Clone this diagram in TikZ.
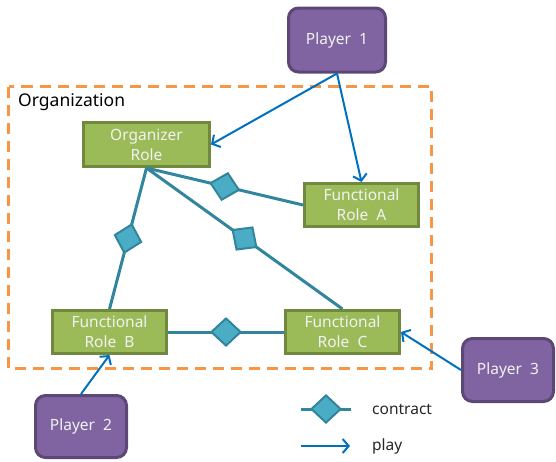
\documentclass[tikz,border=0pt]{standalone}
\usepackage{fontspec}
\setmainfont{Noto Sans}
\usetikzlibrary{shapes.geometric,arrows.meta}
\definecolor{rolefill}{HTML}{9BBB59}
\definecolor{roleedge}{HTML}{71893F}
\definecolor{playerfill}{HTML}{8064A2}
\definecolor{playeredge}{HTML}{5C4776}
\definecolor{linkcol}{HTML}{31859C}
\definecolor{diamfill}{HTML}{4BACC6}
\definecolor{playcol}{HTML}{0070C0}
\definecolor{orgcol}{HTML}{F79646}
\definecolor{boxtext}{HTML}{F2F2F2}
\begin{document}
\begin{tikzpicture}[x=1pt,y=-1pt,
  role/.style={draw=roleedge, fill=rolefill, line width=3pt, text=boxtext,
    font=\fontsize{15.5}{20}\selectfont, align=center, inner sep=0pt,
    minimum width=114pt, minimum height=43pt},
  player/.style={draw=playeredge, fill=playerfill, line width=3pt, text=boxtext,
    font=\fontsize{15.5}{20}\selectfont, rounded corners=10pt, inner sep=0pt,
    minimum width=91pt, minimum height=62pt},
  link/.style={draw=linkcol, line width=3pt},
  contract/.style={diamond, draw=linkcol, fill=diamfill, line width=2pt,
    inner sep=0pt, minimum width=30pt, minimum height=28pt, sloped},
  play/.style={draw=playcol, line width=2pt,
    -{Straight Barb[length=6pt,width=14pt,line width=2pt]}},
  label/.style={font=\fontsize{15.5}{18}\selectfont, text=black!85, anchor=west, inner sep=0pt}
]
\useasboundingbox (0,0) rectangle (556,461);

% organization boundary
\draw[orgcol, line width=3pt, dash pattern=on 11pt off 7pt] (8.5,86.5) rectangle (431.5,368.5);
\node[anchor=west, inner sep=0pt, font=\fontsize{17.5}{20}\selectfont] (orgtitle) at (18,102) {Organization};

% roles and players
\node[role, minimum width=126pt, minimum height=44pt] (org) at (146.5,144.5) {Organizer\\Role};
\node[role] (fa) at (361.5,205) {Functional\\Role~~A};
\node[role] (fb) at (109.5,332) {Functional\\Role~~B};
\node[role] (fc) at (342.5,332) {Functional\\Role~~C};
\node[player, minimum width=97pt, minimum height=64pt] (p1) at (337,40) {Player~~1};
\node[player] (p2) at (81,426.5) {Player~~2};
\node[player, minimum height=63pt] (p3) at (508,370) {Player~~3};

% contracts
\path[link] (org.south) -- node[contract]{} (fa.west);
\path[link] (org.south) -- node[contract]{} (fb.north);
\path[link] (org.south) -- node[contract]{} (fc.north);
\path[link] (fb.east) -- node[contract]{} (fc.west);

% plays
\draw[play] (p1.south) -- (org.east);
\draw[play] (p1.south) -- (fa.north);
\draw[play] (p2.north) -- (fb.south);
\draw[play] (p3.west) -- (fc.east);

% legend
\coordinate (lc1) at (301,409);
\coordinate (lc2) at (351,409);
\path[link] (lc1) -- node[contract]{} (lc2);
\node[label] (lcontract) at (372,409) {contract};
\coordinate (lp1) at (301,446);
\coordinate (lp2) at (350,446);
\draw[play] (lp1) -- (lp2);
\node[label] (lplay) at (372,446) {play};
\end{tikzpicture}
\end{document}
